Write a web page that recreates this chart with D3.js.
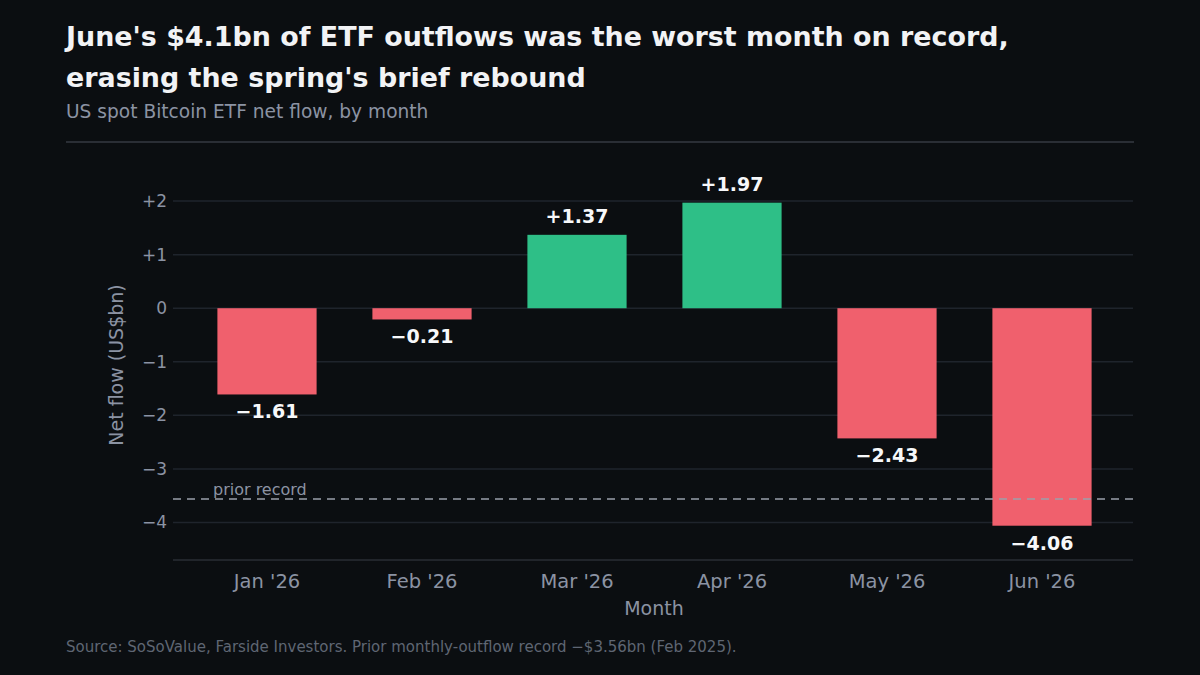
<!DOCTYPE html>
<html><head><meta charset="utf-8">
<script src="https://cdn.jsdelivr.net/npm/d3@7"></script>
<style>
body{margin:0;background:#0b0e11;font-family:"DejaVu Sans",sans-serif}
</style></head><body>
<script>
var months = ["Jan '26","Feb '26","Mar '26","Apr '26","May '26","Jun '26"]
var flows = [-1.61,-0.21,1.37,1.97,-2.43,-4.06]
var yTicks = [-4,-3,-2,-1,0,1,2]
var priorRecord = -3.56

var svg = d3.select('body').append('svg').attr('width',1200).attr('height',675)
svg.append('rect').attr('width',1200).attr('height',675).attr('fill','#0b0e11')

svg.append('text').attr('x',66).attr('y',46).attr('fill','#f2f3f5')
  .attr('font-size',26.9).attr('font-weight','bold')
  .text("June's $4.1bn of ETF outflows was the worst month on record,")
svg.append('text').attr('x',66).attr('y',87).attr('fill','#f2f3f5')
  .attr('font-size',26.9).attr('font-weight','bold')
  .text("erasing the spring's brief rebound")
svg.append('text').attr('x',66).attr('y',118).attr('fill','#8b93a3')
  .attr('font-size',18.6).text('US spot Bitcoin ETF net flow, by month')
svg.append('line').attr('x1',66).attr('x2',1134).attr('y1',142).attr('y2',142)
  .attr('stroke','#2a2e35').attr('stroke-width',2)

var left = 173, right = 1133
var y = d3.scaleLinear().domain([-4.7,2.58]).range([560,170])
var x = d3.scaleBand().domain(months).range([189.5,1119.5]).paddingInner(0.36).paddingOuter(0.18)

// grid
svg.append('g').selectAll('line').data(yTicks).join('line')
  .attr('x1',left).attr('x2',right)
  .attr('y1',d=>y(d)).attr('y2',d=>y(d))
  .attr('stroke','#1f242c').attr('stroke-width',1.5)

var yAxis = svg.append('g').attr('transform','translate('+left+',0)')
  .call(d3.axisLeft(y).tickValues(yTicks).tickSize(0).tickPadding(6)
    .tickFormat(d=>d>0?'+'+d:d<0?'\u2212'+(-d):'0'))
yAxis.select('.domain').remove()
yAxis.selectAll('text').attr('fill','#8b93a3').attr('font-size',17).attr('font-family','DejaVu Sans')

var xAxis = svg.append('g').attr('transform','translate(0,560)')
  .call(d3.axisBottom(x).tickSize(0).tickPadding(14))
xAxis.select('.domain').attr('stroke','#2a2e35').attr('stroke-width',1.5).attr('d','M'+left+',0H'+right)
xAxis.selectAll('text').attr('fill','#8b93a3').attr('font-size',19.5).attr('font-family','DejaVu Sans')

svg.append('text').attr('x',654).attr('y',615).attr('text-anchor','middle')
  .attr('fill','#8b93a3').attr('font-size',19).text('Month')
svg.append('text').attr('transform','translate(123,365) rotate(-90)').attr('text-anchor','middle')
  .attr('fill','#8b93a3').attr('font-size',19).text('Net flow (US$bn)')

svg.append('g').selectAll('rect').data(flows).join('rect')
  .attr('x',(d,i)=>x(months[i])).attr('width',x.bandwidth())
  .attr('y',d=>y(Math.max(0,d))).attr('height',d=>Math.abs(y(d)-y(0)))
  .attr('fill',d=>d>=0?'#2ebf87':'#f0606d')

svg.append('g').selectAll('text').data(flows).join('text')
  .attr('x',(d,i)=>x(months[i])+x.bandwidth()/2)
  .attr('y',d=>d>=0?y(d)-12:y(d)+24)
  .attr('text-anchor','middle').attr('fill','#f7f8fa').attr('font-size',19).attr('font-weight','bold')
  .text(d=>(d>=0?'+':'\u2212')+Math.abs(d).toFixed(2))

svg.append('line').attr('x1',left).attr('x2',right)
  .attr('y1',y(priorRecord)).attr('y2',y(priorRecord))
  .attr('stroke','#9aa0aa').attr('stroke-width',1.5).attr('stroke-dasharray','8,6')
svg.append('text').attr('x',213).attr('y',y(priorRecord)-4)
  .attr('fill','#8b93a3').attr('font-size',16).text('prior record')

svg.append('text').attr('x',66).attr('y',652).attr('fill','#5f6673').attr('font-size',15)
  .text('Source: SoSoValue, Farside Investors. Prior monthly-outflow record \u2212$3.56bn (Feb 2025).')
</script>
</body></html>
